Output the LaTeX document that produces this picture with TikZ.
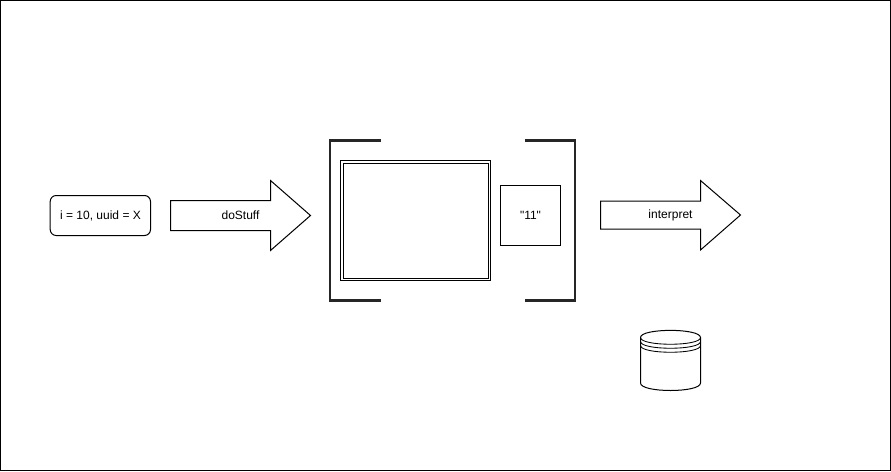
\documentclass[tikz,border=0pt]{standalone}
\usepackage{fontspec}
\newfontfamily\plainsans{Liberation Sans}
\tikzset{
  lbl/.style={inner sep=0pt,font=\plainsans\fontsize{12}{14}\selectfont,text=black},
  outl/.style={draw=black,line width=1pt,fill=white,line join=miter},
  brk/.style={draw=black!85,line width=2.2pt,line join=miter},
  dbl/.style={draw=black,line width=1pt,fill=white},
  ring/.style={draw=black,line width=0.85pt},
}
\begin{document}
\begin{tikzpicture}[x=1pt,y=-1pt]
\useasboundingbox (0,0) rectangle (891,471);
\fill[white] (0,0) rectangle (891,471);
\draw[draw=black,line width=1pt] (0.5,0.5) rectangle (890.5,470.5);
% source box
\draw[outl,rounded corners=6pt] (50.2,195.5) rectangle (150.5,235.5);
\node[lbl] (state) at (100.5,215.5) {i = 10, uuid = X};
% arrow doStuff
\draw[outl] (170.5,200.5) -- (270.5,200.5) -- (270.5,180.5) -- (310.5,215.5) -- (270.5,250.5) -- (270.5,230.5) -- (170.5,230.5) -- cycle;
\node[lbl] (dostuff) at (240.5,215.5) {doStuff};
% brackets
\draw[brk] (380.5,140.5) -- (330.2,140.5) -- (330.2,300.5) -- (380.5,300.5);
\draw[brk] (524.5,140.5) -- (575,140.5) -- (575,300.5) -- (524.5,300.5);
% double rectangle
\draw[dbl] (340.5,160.5) rectangle (490.5,280.5);
\draw[dbl] (343,163) rectangle (488,278);
% square
\draw[outl] (500.5,185.5) rectangle (560.5,245.5);
\node[lbl] (val) at (530.5,215.5) {"11"};
% arrow interpret
\draw[outl] (600.5,201) -- (700.5,201) -- (700.5,180.5) -- (740.5,215) -- (700.5,250) -- (700.5,229) -- (600.5,229) -- cycle;
\node[lbl] (interp) at (670.5,215.5) {interpret};
% cylinder
\draw[outl] (640.5,337.5) .. controls (640.5,328) and (700.5,328) .. (700.5,337.5) -- (700.5,383) .. controls (700.5,393) and (640.5,393) .. (640.5,383) -- cycle;
\draw[ring] (640.5,337.5) .. controls (640.5,346.5) and (700.5,346.5) .. (700.5,337.5);
\draw[ring] (640.5,341.5) .. controls (640.5,350.5) and (700.5,350.5) .. (700.5,341.5);
\draw[ring] (640.5,345.5) .. controls (640.5,354.5) and (700.5,354.5) .. (700.5,345.5);
\end{tikzpicture}
\end{document}
